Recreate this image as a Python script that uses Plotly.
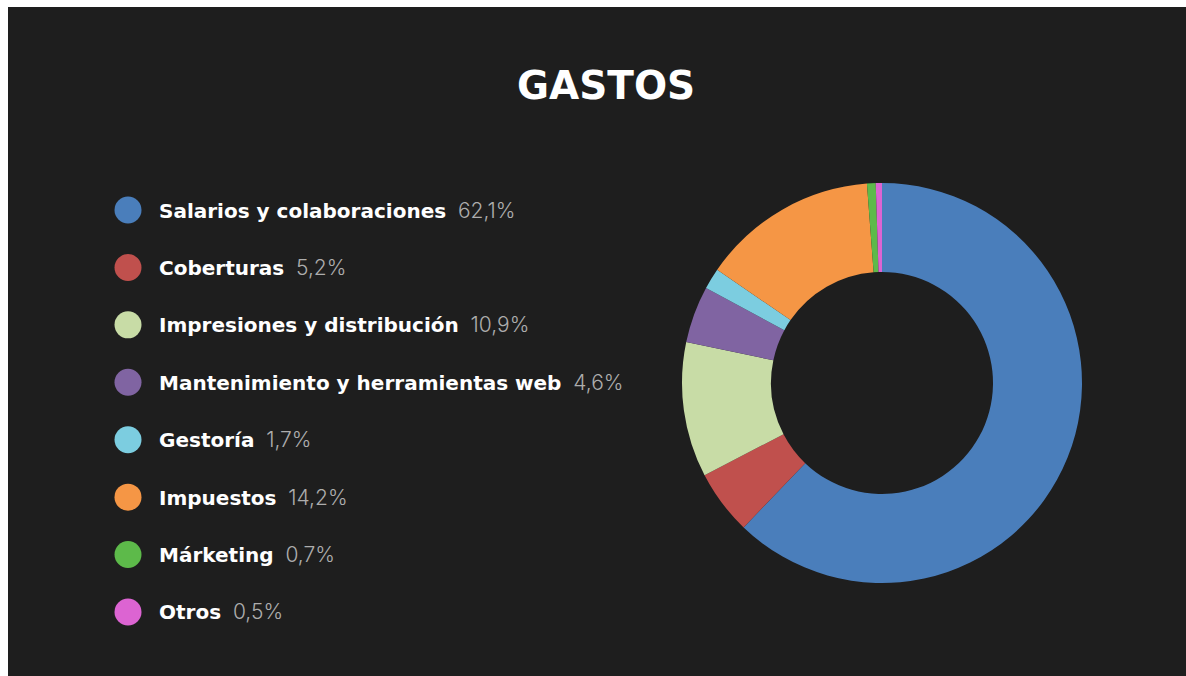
import plotly.graph_objects as go

title = "GASTOS"
categories = ["Salarios y colaboraciones", "Coberturas", "Impresiones y distribución",
              "Mantenimiento y herramientas web", "Gestoría", "Impuestos", "Márketing", "Otros"]
values = [62.1, 5.2, 10.9, 4.6, 1.7, 14.2, 0.7, 0.5]
pct_labels = ["62,1%", "5,2%", "10,9%", "4,6%", "1,7%", "14,2%", "0,7%", "0,5%"]
colors = ["#4a7ebb", "#c0504d", "#c8dca6", "#8064a2", "#7ccde0", "#f59645", "#5dba4a", "#dc64d2"]

BG = "#1e1e1e"
W, H = 1186, 676

fig = go.Figure()

fig.add_trace(go.Pie(
    labels=categories, values=values, sort=False, direction="clockwise", rotation=0,
    hole=0.555, marker=dict(colors=colors, line=dict(width=0)),
    textinfo="none", hoverinfo="label+percent", showlegend=False,
    domain=dict(x=[682 / W, 1082 / W], y=[1 - 583 / H, 1 - 183 / H]),
))

idx = list(range(len(categories)))
fig.add_trace(go.Scatter(
    x=[0] * len(idx), y=idx, mode="markers", cliponaxis=False,
    marker=dict(size=27, color=colors, line=dict(width=0)),
    hoverinfo="skip", showlegend=False, xaxis="x", yaxis="y",
))

annotations = [dict(
    text=title, x=606 / W, y=1 - 86 / H, xref="paper", yref="paper",
    showarrow=False, xanchor="center", yanchor="middle",
    font=dict(family="DejaVu Sans", size=39, color="white", weight=700),
)]
for i, (c, p) in enumerate(zip(categories, pct_labels)):
    annotations.append(dict(
        text=f"<span style='font-family:DejaVu Sans;font-weight:700;font-size:20px'>{c}</span>\u00a0\u00a0"
             f"<span style='font-weight:300;color:#adadad'>{p}</span>",
        x=0, y=i, xref="x", yref="y", xshift=29, showarrow=False,
        xanchor="left", yanchor="middle",
        font=dict(family="Inter", size=21, color="white"),
    ))

fig.update_layout(
    width=W, height=H,
    margin=dict(l=0, r=0, t=0, b=0),
    paper_bgcolor="white", plot_bgcolor="rgba(0,0,0,0)",
    xaxis=dict(domain=[128 / W, 0.6], range=[0, 1], visible=False, fixedrange=True),
    yaxis=dict(domain=[1 - 640.7 / H, 1 - 181.3 / H], range=[7.5, -0.5], visible=False, fixedrange=True),
    shapes=[dict(type="rect", xref="paper", yref="paper", x0=8 / W, x1=1, y0=0, y1=1 - 7 / H,
                 fillcolor=BG, line=dict(width=0), layer="below")],
    annotations=annotations,
)

fig.write_html("out.html")
